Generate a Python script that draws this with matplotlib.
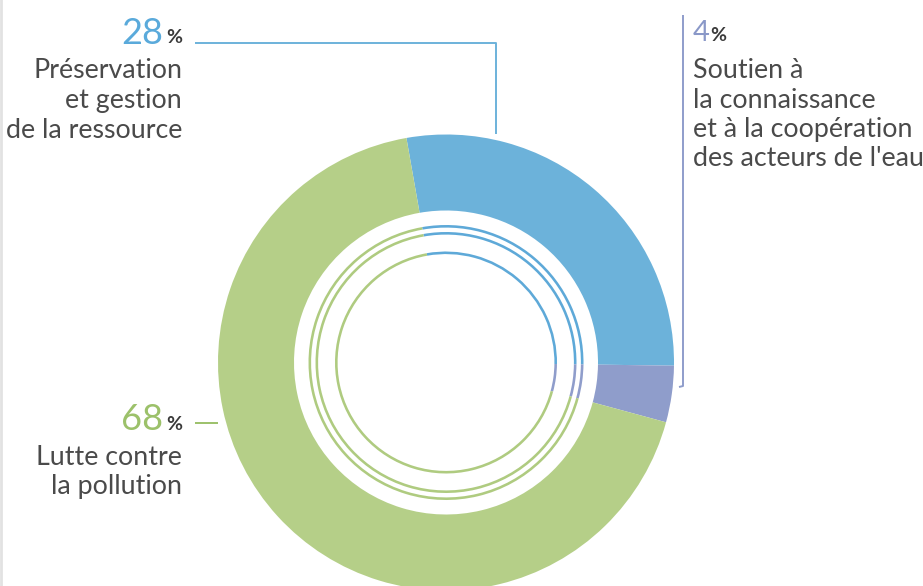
import matplotlib
matplotlib.use("Agg")
import matplotlib.pyplot as plt

W, H = 923, 586

# ---- data ----
categories = ["Préservation et gestion de la ressource",
              "Soutien à la connaissance et à la coopération des acteurs de l'eau",
              "Lutte contre la pollution"]
shares = [28, 4, 68]
pct_labels = ["28", "4", "68"]
label_lines = [["Préservation", "et gestion", "de la ressource"],
               ["Soutien à", "la connaissance", "et à la coopération", "des acteurs de l'eau"],
               ["Lutte contre", "la pollution"]]

colors = ["#6cb2da", "#8f9dcb", "#b5cf88"]
ring_colors = ["#5ea9d8", "#8f9dcb", "#afcb80"]
num_colors = ["#5aaadb", "#8a98c8", "#9cc16a"]
text_col = "#4a4a4a"
FONT = ["Lato", "DejaVu Sans"]

fig = plt.figure(figsize=(W / 100, H / 100), dpi=100)
ax = fig.add_axes([0, 0, 1, 1])

cx, cy = 446, H - 362.5
# main donut
ax.pie(shares, radius=228, center=(cx, cy), startangle=100, counterclock=False,
       colors=colors, wedgeprops=dict(width=76, edgecolor="none", linewidth=0))
# thin concentric rings
for r in [137.5, 130.5, 111]:
    ax.pie(shares, radius=r, center=(cx, cy), startangle=100, counterclock=False,
           colors=ring_colors, wedgeprops=dict(width=2.6, edgecolor="none", linewidth=0))

def Y(y):
    return H - y

# leader lines
ax.plot([195, 496, 496], [Y(43), Y(43), Y(134)], color=colors[0], lw=1.4, solid_capstyle="butt")
ax.plot([679, 683, 683], [Y(387), Y(386), Y(15)], color=colors[1], lw=1.4, solid_capstyle="butt")
ax.plot([195, 218], [Y(423), Y(423)], color=num_colors[2], lw=1.4, solid_capstyle="butt")

# faint left border
ax.plot([1, 1], [0, H], color="#e2e2e2", lw=2)

# big numbers
ax.text(163, Y(44), pct_labels[0], ha="right", va="baseline", fontsize=26,
        color=num_colors[0], family=FONT)
ax.text(166, Y(43), "%", ha="left", va="baseline", fontsize=14,
        color="#3a3a3a", family=FONT, weight="bold")
ax.text(693, Y(41), pct_labels[1], ha="left", va="baseline", fontsize=21,
        color=num_colors[1], family=FONT)
ax.text(710, Y(41), "%", ha="left", va="baseline", fontsize=14,
        color="#3a3a3a", family=FONT, weight="bold")
ax.text(163, Y(430), pct_labels[2], ha="right", va="baseline", fontsize=26,
        color=num_colors[2], family=FONT)
ax.text(166, Y(430), "%", ha="left", va="baseline", fontsize=14,
        color="#3a3a3a", family=FONT, weight="bold")

# labels
FS = 19.3
for i, line in enumerate(label_lines[0]):
    ax.text(182, Y(78 + 30 * i), line, ha="right", va="baseline", fontsize=FS,
            color=text_col, family=FONT)
for i, line in enumerate(label_lines[1]):
    ax.text(693, Y(78 + 29.5 * i), line, ha="left", va="baseline", fontsize=FS,
            color=text_col, family=FONT)
for i, line in enumerate(label_lines[2]):
    ax.text(182, Y(465 + 29 * i), line, ha="right", va="baseline", fontsize=FS,
            color=text_col, family=FONT)

ax.set_xlim(0, W)
ax.set_ylim(0, H)
ax.set_aspect("equal")
ax.axis("off")
fig.savefig("out.png", dpi=100, facecolor="white")
